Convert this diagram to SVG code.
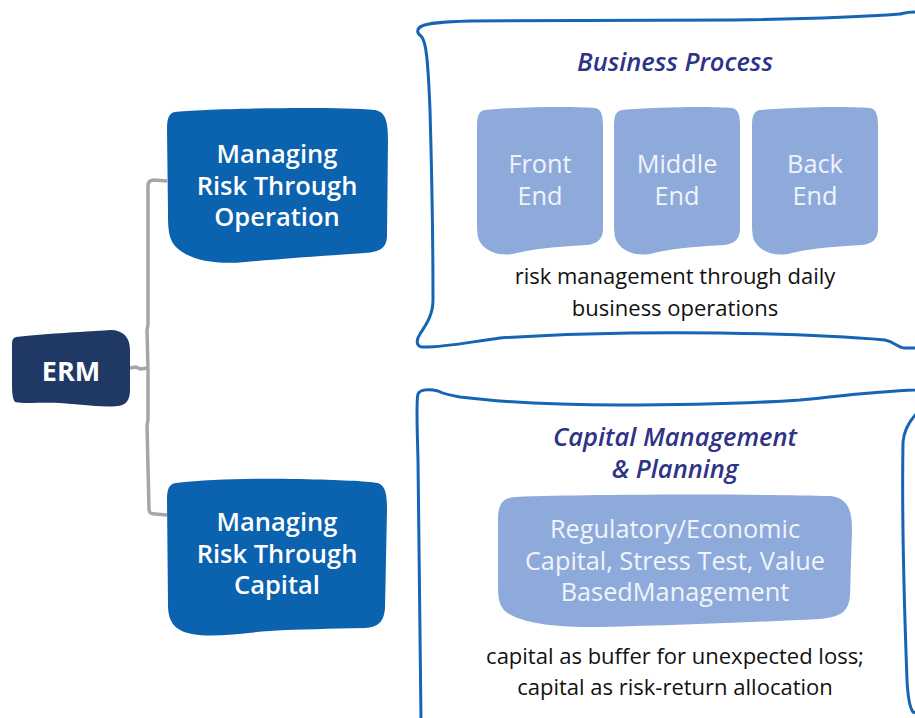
<svg xmlns="http://www.w3.org/2000/svg" width="915" height="718" viewBox="0 0 915 718">
  <style>
    .bg { fill: #ffffff; }
    .node-dark { fill: #0b62ae; }
    .node-root { fill: #1f3864; }
    .node-light { fill: #8eaadb; }
    .panel { fill: none; stroke: #1565b4; stroke-width: 3; stroke-linejoin: round; stroke-linecap: round; }
    .link { fill: none; stroke: #a6a6a6; stroke-width: 3.5; stroke-linejoin: round; }
    text { font-family: "Open Sans", "Noto Sans", "DejaVu Sans", sans-serif; text-anchor: middle; }
    .t-node { fill: #ffffff; font-size: 25.5px; font-weight: 600; }
    .t-root { fill: #ffffff; font-size: 27px; font-weight: 700; }
    .t-title { fill: #2e3388; font-size: 25.5px; font-weight: 600; font-style: italic; }
    .t-light { fill: #f0f4fb; font-size: 25.3px; }
    .t-body { fill: #111111; font-size: 22px; }
  </style>
  <defs>
    <!-- tab-like box used for the three process stages -->
    <path id="stage" d="M8,3 C40,0 95,-1 118,1 C125,2 126,10 126,20 L126,122 C126,132 120,137 110,138 C90,139 60,141 40,146 C25,150 10,146 3,135 C0,130 0,122 0,112 L0,20 C0,8 2,4 8,3 Z"/>
  </defs>
  <rect class="bg" x="0" y="0" width="915" height="718"/>

  <!-- connectors from ERM to the two branches -->
  <g id="connectors">
    <path class="link" d="M167,181 L154,180 C150,180 148,182 148,186 L148,325 L147,330 L148,370 L148,420 L147,425 L149,509 C149,513 151,514 155,514 L167,515"/>
    <path class="link" d="M130,368 L136,367 L140,369 L148,368"/>
  </g>

  <!-- root -->
  <g id="erm">
    <path class="node-root" d="M16,337 C40,334 80,332 110,330 C124,330 130,338 130,350 L130,390 C130,400 126,405 118,406 C100,408 80,404 60,403 C40,402 25,404 15,402 C12,398 12,390 12,380 L12,345 C12,340 13,338 16,337 Z"/>
    <text class="t-root" x="71" y="381">ERM</text>
  </g>

  <!-- branch: operation -->
  <g id="risk-operation">
    <path class="node-dark" d="M175,112 C200,109 330,106 375,110 C386,112 388,122 388,140 L387,235 C387,248 380,252 365,253 C320,256 280,259 245,262 C215,265 188,260 175,246 C168,238 168,226 168,212 L167,130 C167,118 169,113 175,112 Z"/>
    <text class="t-node" x="277" y="163">Managing</text>
    <text class="t-node" x="277" y="195">Risk Through</text>
    <text class="t-node" x="277" y="226">Operation</text>
  </g>

  <!-- branch: capital -->
  <g id="risk-capital">
    <path class="node-dark" d="M176,483 C210,479 250,478 300,479 C340,480 365,481 378,483 C386,486 387,495 387,510 L385,608 C384,622 378,627 365,628 C330,629 300,629 270,631 C240,633 215,638 192,634 C175,631 168,622 168,605 L167,500 C167,489 169,484 176,483 Z"/>
    <text class="t-node" x="277" y="531">Managing</text>
    <text class="t-node" x="277" y="563">Risk Through</text>
    <text class="t-node" x="277" y="594">Capital</text>
  </g>

  <!-- business process panel -->
  <g id="business-process">
    <path class="panel" d="M930,12 L915,12 C905,12 902,14 900,14 C860,17 800,19 733,20 C650,21 560,20 470,21 C440,22 428,23 422,26 C417,28 416,33 421,36 C426,40 428,60 430,110 C432,180 433,250 433,300 C433,316 425,326 420,334 C416,340 416,346 422,347 C440,348 470,342 500,338 C560,334 640,332 720,333 C790,334 850,337 885,340 C895,342 898,348 905,348 L930,348"/>
    <text class="t-title" x="675" y="71">Business Process</text>
    <g id="front-end">
      <use href="#stage" class="node-light" transform="translate(477,107)"/>
      <text class="t-light" x="540" y="173">Front</text>
      <text class="t-light" x="540" y="205">End</text>
    </g>
    <g id="middle-end">
      <use href="#stage" class="node-light" transform="translate(614,107)"/>
      <text class="t-light" x="677" y="173">Middle</text>
      <text class="t-light" x="677" y="205">End</text>
    </g>
    <g id="back-end">
      <use href="#stage" class="node-light" transform="translate(752,107)"/>
      <text class="t-light" x="815" y="173">Back</text>
      <text class="t-light" x="815" y="205">End</text>
    </g>
    <text class="t-body" x="675" y="284">risk management through daily</text>
    <text class="t-body" x="675" y="316">business operations</text>
  </g>

  <!-- capital management panel -->
  <g id="capital-management">
    <path class="panel" d="M930,389 L915,390 C880,391 840,396 800,400 C740,404 680,405 620,405 C560,405 500,402 460,397 C448,395 442,393 438,391 C430,389 420,389 418,394 C416,400 417,420 418,460 C419,540 420,640 421,720"/>
    <path class="panel" d="M918,412 C910,420 904,430 903,442 C902,500 904,600 907,680 C908,700 910,708 913,712 L925,716"/>
    <text class="t-title" x="675" y="446">Capital Management</text>
    <text class="t-title" x="675" y="478">&amp; Planning</text>
    <g id="capital-tools">
      <path class="node-light" d="M515,497 C600,494 760,494 830,496 C848,498 852,510 852,530 L850,595 C849,612 840,617 820,619 C760,622 680,625 600,627 C550,628 520,622 506,612 C499,606 498,598 498,585 L498,520 C498,503 503,498 515,497 Z"/>
      <text class="t-light" x="675" y="538">Regulatory/Economic</text>
      <text class="t-light" x="675" y="570">Capital, Stress Test, Value</text>
      <text class="t-light" x="675" y="601">BasedManagement</text>
    </g>
    <text class="t-body" x="675" y="664">capital as buffer for unexpected loss;</text>
    <text class="t-body" x="675" y="695">capital as risk-return allocation</text>
  </g>
</svg>
